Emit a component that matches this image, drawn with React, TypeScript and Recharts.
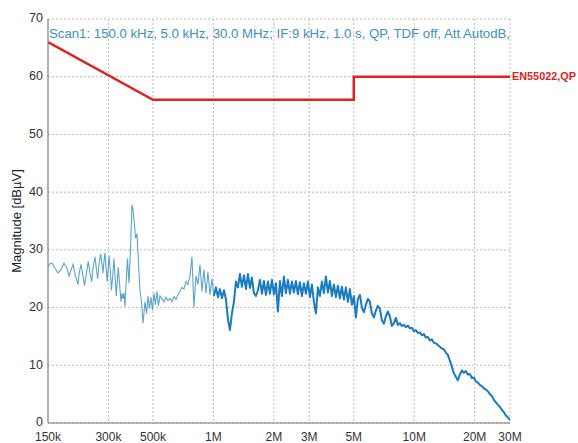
import React from 'react';
import { LineChart, Line, XAxis, YAxis, CartesianGrid } from 'recharts';

// measured spectrum, frequency in kHz
const freqKHz = [
  150, 153.5, 157, 162.6, 168.2, 174.1, 180.2, 186.5, 190.9, 195.2,
  199.8, 204.4, 211.6, 214.1, 219, 224.1, 227.9, 233.2, 238, 242.8,
  247.5, 251.3, 257.2, 261.6, 265.2, 269.2, 274.5, 278.6, 281.8, 285.1,
  288.4, 292.7, 295.8, 299.4, 302.1, 307.1, 310.5, 316, 319.7, 324.1,
  328.2, 332, 335.9, 341, 346.4, 350.4, 354.5, 358.5, 362.6, 366.8,
  373.2, 379.7, 386.2, 392.9, 397.5, 403.5, 409.5, 416.2, 422.1, 430.7,
  439, 446.1, 456.1, 465.1, 472, 480.3, 488.6, 497.1, 505.6, 514.4,
  523.4, 532.5, 541.6,
  554.2, 567.1, 580.2, 593.7, 607.4, 621.5, 635.9, 650.7, 665.8, 681.2,
  697, 713.2, 729.7, 746.6, 763.9, 781.7, 799.8, 818.4, 837.3, 856.8,
  876.6, 897, 917.8, 939, 960.8, 983.1, 1005.9, 1029.3, 1053.2, 1077.6,
  1102.6, 1128.2, 1154.3, 1181, 1208.4, 1236.4, 1265.1, 1294.4, 1324.5, 1355.2,
  1386.7, 1418.9, 1451.8, 1485.4, 1519.8, 1555.1, 1591.2, 1628.1, 1665.9, 1704.5,
  1744.1, 1784.5, 1825.9, 1868.1, 1911.4, 1955.8, 2001.2, 2047.6, 2095.1, 2143.7,
  2193.4, 2244.3, 2296.4, 2349.5, 2404, 2460, 2517, 2575, 2635, 2696,
  2759, 2823, 2888, 2955, 3024, 3094, 3166, 3239, 3314, 3391,
  3470, 3550, 3633, 3717, 3803, 3891, 3982, 4074, 4168, 4265,
  4364, 4466, 4569, 4675, 4783, 4894, 5008, 5124, 5243, 5365,
  5489, 5617, 5747, 5879, 6015, 6155, 6298, 6444, 6593, 6746,
  6903, 7063, 7227, 7394, 7565, 7741, 7920, 8104, 8292, 8485,
  8682, 8883, 9089, 9299, 9515, 9735, 9961, 10192, 10428, 10670,
  10918, 11171, 11430, 11694, 11966, 12243, 12527, 12818, 13115, 13419,
  13730, 14049, 14375, 14708, 15049, 15398, 15755, 16120, 16494, 16877,
  17268, 17669, 18079, 18498, 18927, 19366, 19815, 20275, 20745, 21226,
  21719, 22223, 22738, 23264, 23804, 24356, 24921, 25499, 26091, 26696,
  27315, 27949, 28597, 29260, 30000,
];

// magnitude in dBµV
const level = [
  27.1, 27.6, 27.7, 26.8, 26.0, 26.6, 27.7, 26.8, 25.5, 26.5,
  27.5, 25.8, 24.0, 25.8, 27.5, 25.5, 23.8, 26.0, 28.0, 26.0,
  24.5, 26.8, 28.8, 26.5, 25.0, 27.5, 29.3, 27.5, 26.0, 28.0,
  29.5, 26.5, 24.5, 27.0, 29.0, 26.0, 23.0, 26.0, 28.5, 25.0,
  22.0, 24.5, 27.0, 24.0, 21.0, 22.5, 21.5, 22.5, 20.2, 24.0,
  28.5, 24.2, 30.0, 37.8, 37.0, 34.6, 32.0, 32.8, 28.8, 23.0,
  20.8, 17.3, 21.0, 19.0, 22.0, 19.8, 21.8, 19.5, 22.5, 20.5,
  22.8, 20.3, 22.0,
  21.5, 21.0, 21.8, 21.2, 21.6, 21.0, 21.9, 21.4, 22.2, 22.8,
  23.5, 23.2, 24.5, 24.0, 25.5, 28.8, 20.0, 25.5, 24.0, 27.4,
  22.8, 26.5, 22.5, 26.2, 22.2, 25.0, 22.0, 23.5, 21.8, 23.2,
  21.6, 23.0, 21.5, 18.0, 16.1, 19.0, 21.0, 24.5, 23.5, 25.8,
  23.6, 25.6, 23.2, 25.8, 23.4, 25.2, 22.5, 22.0, 23.0, 24.8,
  22.4, 24.6, 22.2, 24.5, 22.4, 24.8, 22.3, 24.2, 19.3, 24.6,
  22.0, 25.4, 22.5, 24.8, 22.4, 24.5, 22.6, 24.6, 22.3, 24.4,
  22.0, 24.2, 22.4, 24.5, 21.8, 24.0, 21.0, 19.0, 23.5, 22.0,
  24.5, 22.5, 25.4, 22.6, 24.6, 22.0, 24.0, 21.8, 23.8, 21.6,
  23.6, 21.4, 23.5, 21.0, 23.2, 20.5, 22.0, 18.3, 21.5, 22.2,
  20.0, 19.2, 20.5, 21.5, 21.0, 19.0, 18.3, 19.5, 20.3, 19.8,
  17.8, 17.2, 18.5, 19.3, 18.5, 16.8, 17.3, 18.2, 17.0, 17.3,
  16.8, 17.0, 16.6, 16.9, 16.4, 16.5, 15.9, 16.1, 15.6, 15.7,
  15.2, 15.4, 14.8, 14.9, 14.3, 14.5, 13.9, 13.8, 13.5, 13.2,
  12.9, 12.8, 12.2, 11.8, 10.8, 9.8, 8.6, 8.0, 7.4, 8.4,
  9.1, 8.7, 9.0, 8.4, 8.5, 7.8, 7.9, 7.2, 7.0, 6.6,
  6.4, 6.0, 5.8, 5.5, 5.0, 4.7, 4.0, 3.6, 3.2, 2.8,
  2.3, 1.9, 1.3, 1.0, 0.5,
];

// EN55022 QP limit
const limitFreqKHz = [150, 500, 5000, 5000, 30000];
const limitLevel = [66, 56, 56, 60, 60];

const xTicks = [150e3, 300e3, 500e3, 1e6, 2e6, 3e6, 5e6, 10e6, 20e6, 30e6];
const xTickLabels = ['150k', '300k', '500k', '1M', '2M', '3M', '5M', '10M', '20M', '30M'];
const yTicks = [0, 10, 20, 30, 40, 50, 60, 70];

const scanText = 'Scan1: 150.0 kHz, 5.0 kHz, 30.0 MHz; IF:9 kHz, 1.0 s, QP, TDF off, Att AutodB,';

const spectrum = freqKHz.map((f, i) => ({ f: f * 1000, level: level[i] }));
// trace looks thin/light below 1 MHz and dense/dark above
const split = freqKHz.findIndex((f) => f >= 1000);
const spectrumLow = spectrum.slice(0, split + 1);
const spectrumHigh = spectrum.slice(split);
const limit = limitFreqKHz.map((f, i) => ({ f: f * 1000, limit: limitLevel[i] }));

const font = '"Liberation Sans", Arial, sans-serif';

const fmtX = (v: number) => {
  const i = xTicks.indexOf(v);
  return i >= 0 ? xTickLabels[i] : '';
};

export default function App() {
  return (
    <div style={{ position: 'absolute', left: 0, top: 0, width: 578, height: 443, background: '#fff' }}>
      <LineChart width={578} height={443} margin={{ top: 19, right: 68, bottom: 0, left: 0 }}>
        <CartesianGrid stroke="#bcbcbc" strokeDasharray="2 2" />
        <XAxis
          dataKey="f"
          type="number"
          scale="log"
          domain={[150000, 30000000]}
          allowDataOverflow
          ticks={xTicks}
          interval={0}
          tickFormatter={fmtX}
          height={20}
          tickSize={0}
          tickMargin={9}
          axisLine={{ stroke: '#777' }}
          tick={{ fill: '#333', fontSize: 12, fontFamily: font }}
        />
        <XAxis
          xAxisId="top"
          orientation="top"
          type="number"
          scale="log"
          domain={[150000, 30000000]}
          height={0}
          tick={false}
          tickLine={false}
          axisLine={{ stroke: '#999' }}
        />
        <YAxis
          type="number"
          domain={[0, 70]}
          ticks={yTicks}
          interval={0}
          width={48}
          tickSize={0}
          tickMargin={5}
          axisLine={{ stroke: '#777' }}
          tick={{ fill: '#333', fontSize: 12.5, fontFamily: font, dy: -1 }}
        />
        <YAxis
          yAxisId="right"
          orientation="right"
          type="number"
          domain={[0, 70]}
          width={0}
          tick={false}
          tickLine={false}
          axisLine={{ stroke: '#999' }}
        />
        <Line
          data={spectrumLow}
          dataKey="level"
          type="linear"
          stroke="#5aa5ca"
          strokeWidth={1.1}
          dot={false}
          isAnimationActive={false}
        />
        <Line
          data={spectrumHigh}
          dataKey="level"
          type="linear"
          stroke="#1a7bbf"
          strokeWidth={2}
          strokeLinejoin="round"
          dot={false}
          isAnimationActive={false}
        />
        <Line
          data={limit}
          dataKey="limit"
          type="linear"
          stroke="#e0221f"
          strokeWidth={2.5}
          dot={false}
          isAnimationActive={false}
        />
      </LineChart>
      <svg width={578} height={443} style={{ position: 'absolute', left: 0, top: 0, pointerEvents: 'none' }}>
        <text x={49} y={38} fontSize={12.5} fontFamily={font} fill="#3d8fc4" textLength={461} lengthAdjust="spacingAndGlyphs">
          {scanText}
        </text>
        <text x={512} y={80} fontSize={10} fontWeight="bold" fontFamily={font} fill="#e0221f" textLength={64} lengthAdjust="spacingAndGlyphs">
          EN55022,QP
        </text>
        <text x={21} y={221} fontSize={13} fontFamily={font} fill="#222" textAnchor="middle" transform="rotate(-90 21 221)">
          Magnitude [dBµV]
        </text>
      </svg>
    </div>
  );
}
